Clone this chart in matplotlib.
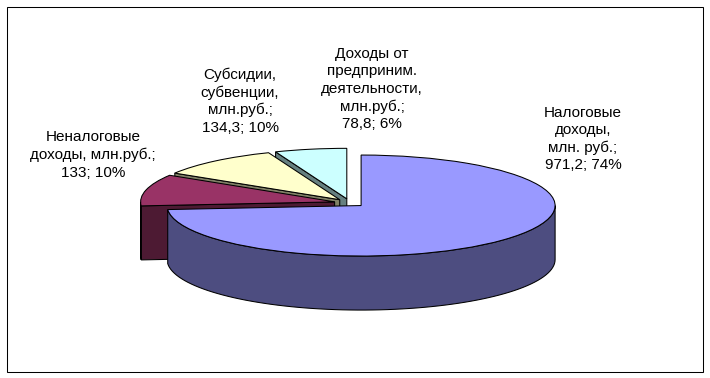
import numpy as np
import matplotlib.pyplot as plt
from matplotlib.patches import Polygon, Rectangle

plt.rcParams['font.family'] = ['Liberation Sans', 'DejaVu Sans']

# data
names = ['Налоговые\nдоходы,\nмлн. руб.', 'Неналоговые\nдоходы, млн.руб.',
         'Субсидии,\nсубвенции,\nмлн.руб.', 'Доходы от\nпредприним.\nдеятельности,\nмлн.руб.']
values = [971.2, 133, 134.3, 78.8]
top_colors = ['#9999FF', '#993366', '#FFFFCC', '#CCFFFF']
side_colors = ['#4D4D80', '#4D1A33', '#808066', '#668080']
label_pos = [(583, 139), (93, 155), (240, 101), (372, 89)]  # label centres, px

W, H = 710, 378
depth = 1.07  # height of the pie, in y units of the squashed circle

fig = plt.figure(figsize=(W / 100, H / 100), dpi=100)
ax = fig.add_axes([0, 0, 1, 1])
wedges, _ = ax.pie(values, startangle=90, counterclock=False, explode=[0.08] * len(values),
                   colors=top_colors, wedgeprops=dict(edgecolor='black', linewidth=0.75))
# tilt the pie: circle of radius 1 -> 194 px wide, 50.5 px high
ax.set_aspect('auto')
ax.set_xlim(-349.7 / 194, (W - 349.7) / 194)
ax.set_ylim((202.8 - H) / 50.5, 202.8 / 50.5)
ax.axis('off')


def arc(cx, cy, t0, t1, n=80):
    t = np.radians(np.linspace(t0, t1, n))
    return np.column_stack([cx + np.cos(t), cy + np.sin(t)])


# paint from back to front
mids = [np.radians((w.theta1 + w.theta2) / 2) for w in wedges]
order = np.argsort([-np.sin(m) for m in mids])
for rank, i in enumerate(order):
    w = wedges[i]
    cx, cy = w.center
    z = 2 + rank
    w.set_zorder(z + 0.5)
    # radial faces that look at the viewer
    for t, normal in ((w.theta1, w.theta1 - 90), (w.theta2, w.theta2 + 90)):
        if np.sin(np.radians(normal)) < -1e-6:
            rx, ry = cx + np.cos(np.radians(t)), cy + np.sin(np.radians(t))
            pts = [(cx, cy), (rx, ry), (rx, ry - depth), (cx, cy - depth)]
            ax.add_patch(Polygon(pts, closed=True, fc=side_colors[i], ec='black', lw=0.75, zorder=z))
    # outer wall, front half only
    for k in (-1, 0, 1):
        lo, hi = max(w.theta1, 360 * k - 180), min(w.theta2, 360 * k)
        if lo < hi:
            top = arc(cx, cy, lo, hi)
            bottom = top[::-1] - [0, depth]
            ax.add_patch(Polygon(np.vstack([top, bottom]), closed=True, fc=side_colors[i],
                                 ec='black', lw=0.75, zorder=z + 0.1))

total = sum(values)
for name, v, (px, py) in zip(names, values, label_pos):
    val = f"{v:g}".replace('.', ',')
    txt = f"{name};\n{val}; {round(v / total * 100)}%"
    fig.text(px / W, 1 - py / H, txt, ha='center', va='center', fontsize=11, linespacing=1.3)

fig.add_artist(Rectangle((6.5 / W, (H - 371.5) / H), 696.5 / W, 365 / H, transform=fig.transFigure,
                         fill=False, ec='black', lw=0.75))

fig.savefig('out.png', dpi=100)
